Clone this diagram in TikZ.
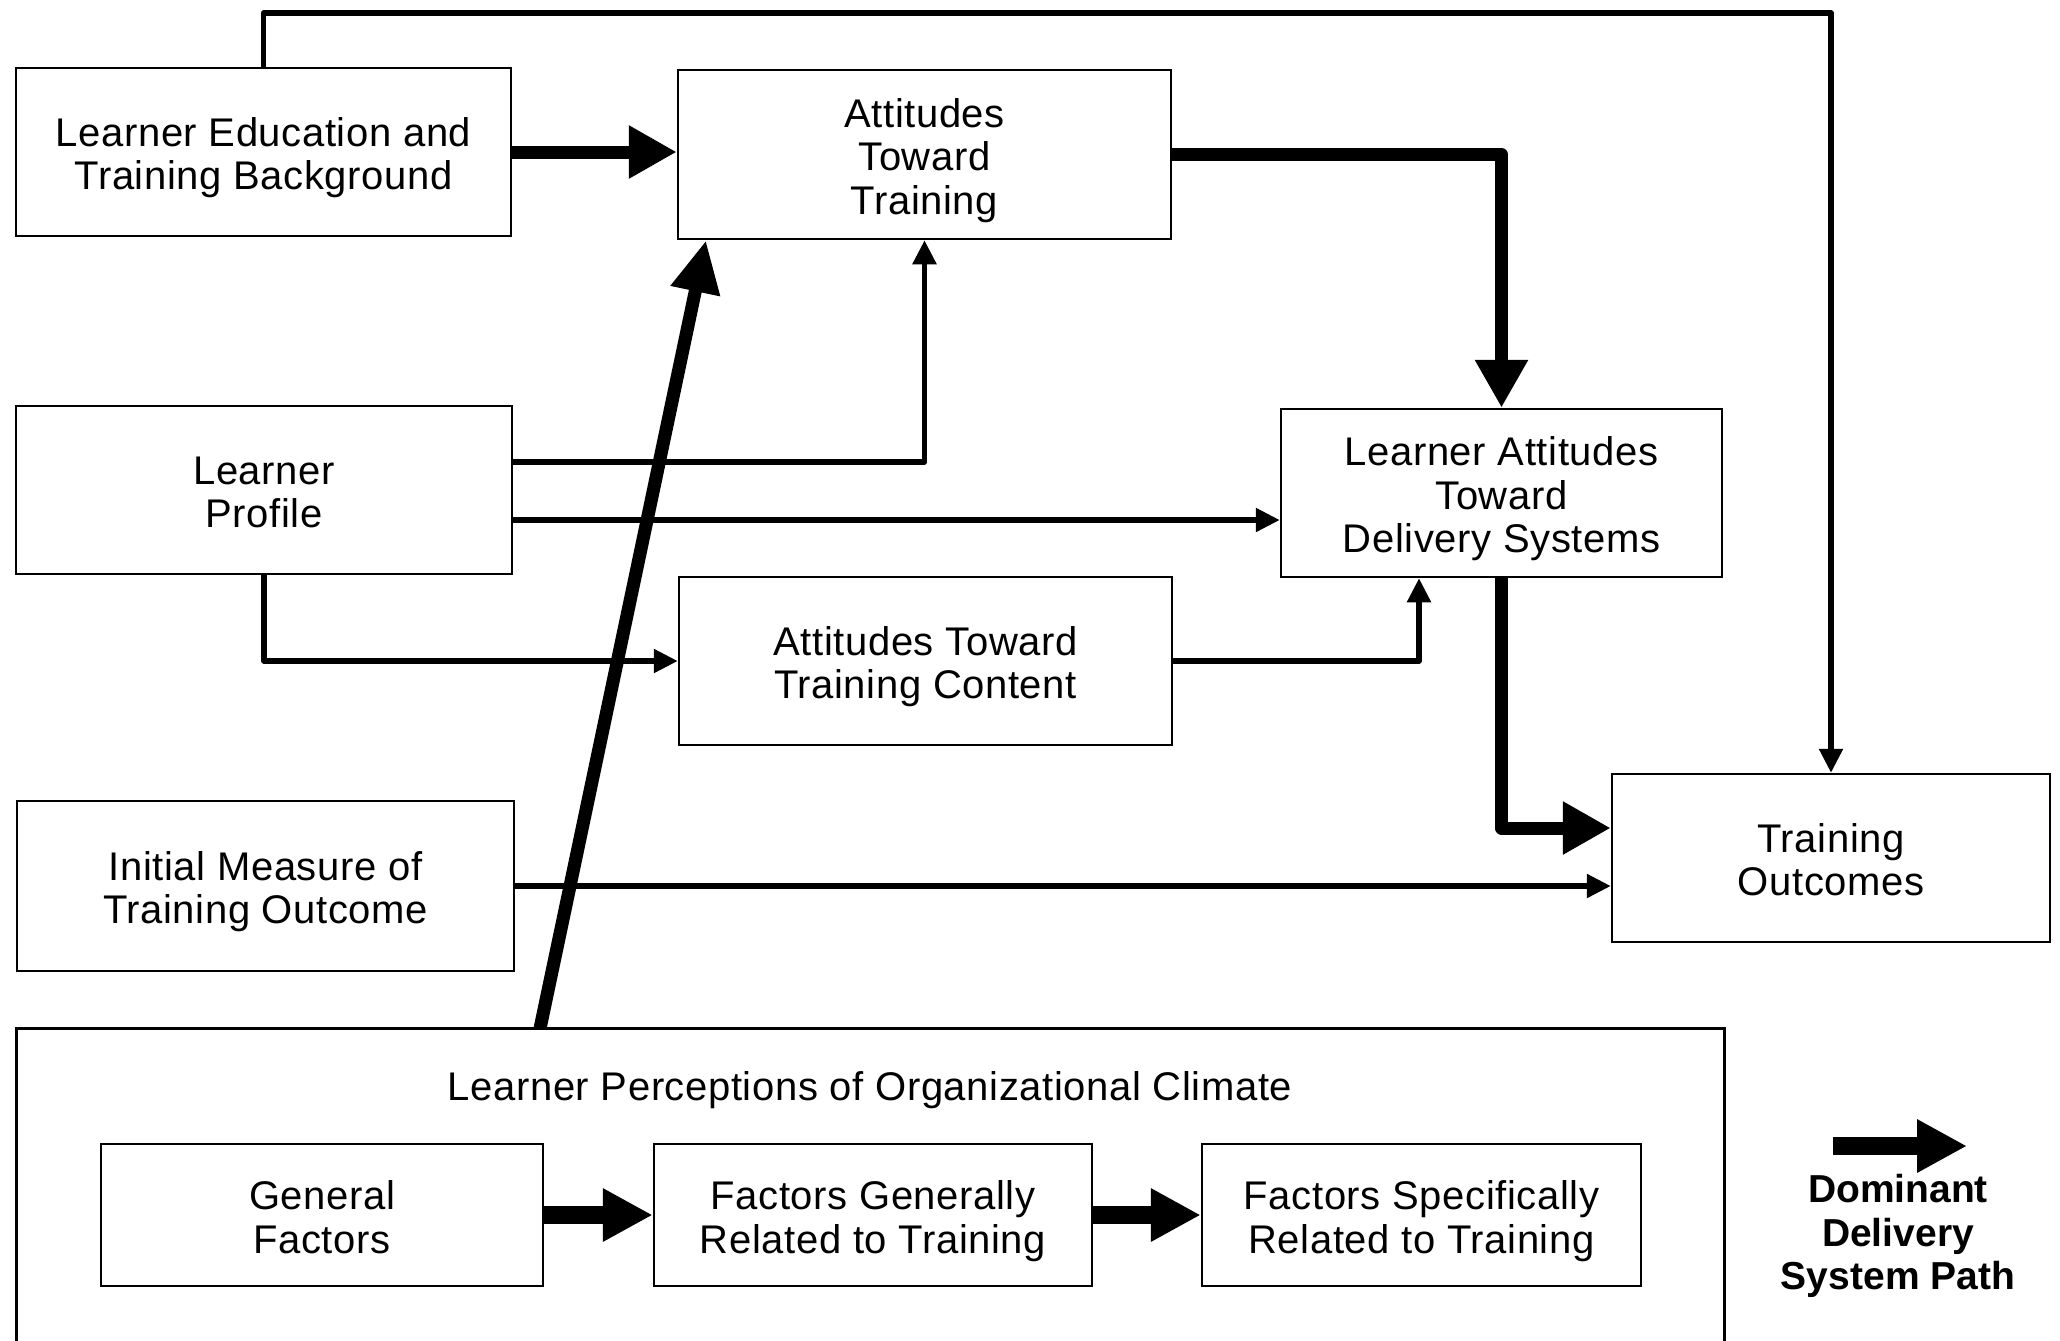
\documentclass[tikz,border=0pt]{standalone}
\usepackage{fontspec}
\setmainfont{Liberation Sans}
\usetikzlibrary{arrows.meta}
\newcommand{\diagfont}{\addfontfeature{LetterSpace=1.5}\fontsize{20}{21.7}\selectfont}
\newcommand{\legendfont}{\bfseries\fontsize{19.5}{21.7}\selectfont}
% centred lines, set a little low within their box
\newcommand{\boxtext}[1]{\raisebox{-3.8pt}[\height][\depth]{\begin{tabular}{@{}c@{}}#1\end{tabular}}}

\begin{document}
\begin{tikzpicture}[x=0.5pt,y=-0.5pt,
  box/.style={draw, line width=1.25pt, inner sep=0pt, font=\diagfont},
  conn/.style={line width=2.7pt, line join=round, -{Triangle[length=12pt,width=11.5pt]}},
  mainpath/.style={line width=6.5pt, line join=round, -{Triangle[length=24pt,width=25pt]}},
  climpath/.style={line width=9pt, -{Triangle[length=25pt,width=25pt]}},
  risepath/.style={line width=6.5pt, -{Triangle[length=26pt,width=23.5pt]}}]

% page frame
\useasboundingbox (0,0) rectangle (2060,1340);

% upper boxes
\node[box, minimum width=247.5pt, minimum height=84pt] (led) at (263.5,152)
  {\boxtext{Learner Education and\\Training Background}};
\node[box, minimum width=246.5pt, minimum height=84.5pt] (att) at (924.5,154.5)
  {\boxtext{Attitudes\\Toward\\Training}};
\node[box, minimum width=248pt, minimum height=84pt] (lp) at (264,490)
  {\boxtext{Learner\\Profile}};
\node[box, minimum width=220.5pt, minimum height=84pt] (lads) at (1501.5,493)
  {\boxtext{Learner Attitudes\\Toward\\Delivery Systems}};
\node[box, minimum width=246.5pt, minimum height=84pt] (attc) at (925.5,661)
  {\boxtext{Attitudes Toward\\Training Content}};
\node[box, minimum width=248.5pt, minimum height=85pt] (im) at (265.5,886)
  {\boxtext{Initial Measure of\\Training Outcome}};
\node[box, minimum width=219pt, minimum height=84pt] (to) at (1831,858)
  {\boxtext{Training\\Outcomes}};

% organizational climate frame (runs past the lower edge)
\node[minimum width=853.5pt, minimum height=156.5pt, inner sep=0pt] (climate) at (870.5,1185.5) {};
\draw[line width=1.25pt] (climate.south west) -- (climate.north west) -- (climate.north east) -- (climate.south east);
\node[font=\diagfont, anchor=base] (climtitle) at (870,1100) {Learner Perceptions of Organizational Climate};

\node[box, minimum width=221pt, minimum height=71pt] (gf) at (322,1215)
  {\boxtext{General\\Factors}};
\node[box, minimum width=219pt, minimum height=71pt] (fg) at (873,1215)
  {\boxtext{Factors Generally\\Related to Training}};
\node[box, minimum width=219.5pt, minimum height=71pt] (fs) at (1421.5,1215)
  {\boxtext{Factors Specifically\\Related to Training}};

% legend
\coordinate (legA) at (1833,1146);
\coordinate (legB) at (1967,1146);
\draw[climpath] (legA) -- (legB);
\node[font=\legendfont, align=center, inner sep=0pt] (legtext) at (1898,1236)
  {Dominant\\Delivery\\System Path};

% dominant delivery system path
\draw[mainpath] (led.east) -- (led.east -| att.west);
\draw[mainpath] (att.east) -| (lads.north);
\draw[mainpath] (lads.south) |- ([yshift=15pt]to.west);
\draw[climpath] (gf) -- (fg);
\draw[climpath] (fg) -- (fs);
\draw[risepath] (540,0 |- climate.north) -- (706,0 |- att.south);

% other influences
\draw[conn] (led.north) -- (led.north |- 0,13) -| (to.north);
\draw[conn] (lp.east |- 0,462) -| (att.south);
\draw[conn] (lp.east |- 0,520) -- (lads.west |- 0,520);
\draw[conn] (lp.south) |- (attc.west);
\draw[conn] (attc.east) -| (1419,0 |- lads.south);
\draw[conn] (im.east) -- (im.east -| to.west);
\end{tikzpicture}
\end{document}
